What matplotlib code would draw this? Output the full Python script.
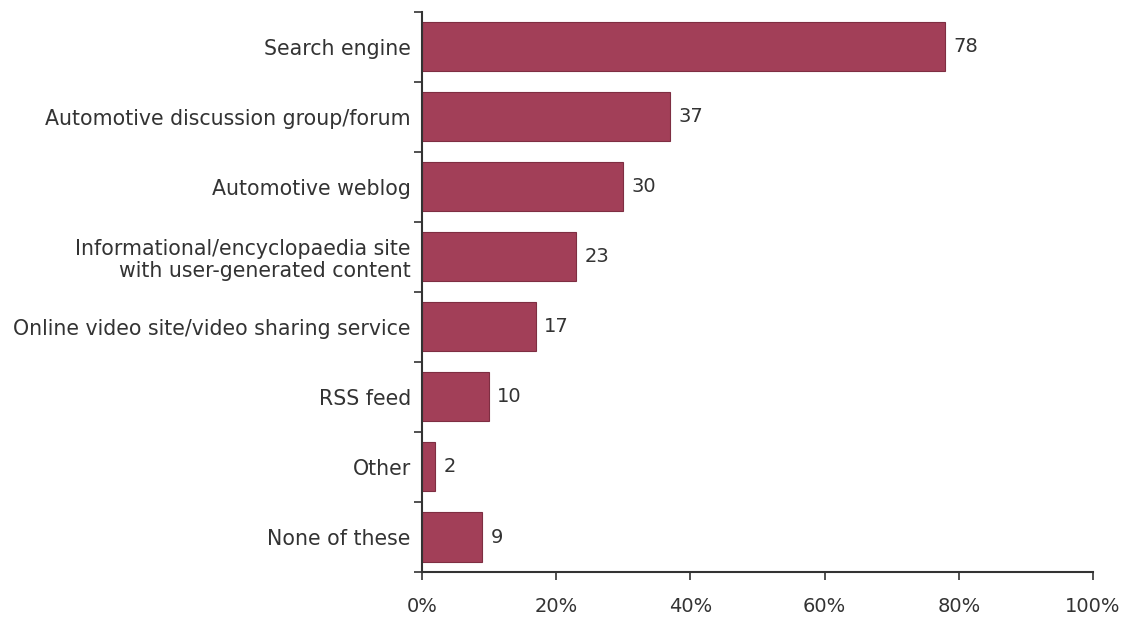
import matplotlib
matplotlib.use("Agg")
import matplotlib.pyplot as plt
import numpy as np

categories = ["Search engine", "Automotive discussion group/forum", "Automotive weblog",
              "Informational/encyclopaedia site\nwith user-generated content",
              "Online video site/video sharing service", "RSS feed", "Other", "None of these"]
values = [78, 37, 30, 23, 17, 10, 2, 9]
xticks = [0, 20, 40, 60, 80, 100]
xticklabels = ["0%", "20%", "40%", "60%", "80%", "100%"]

plt.rcParams['font.family'] = ['DejaVu Sans']
fig = plt.figure(figsize=(11.28, 6.18), dpi=100)
ax = fig.add_axes([0.374, 0.0744, 0.595, 0.9066])

y = np.arange(len(categories))
ax.barh(y, values, height=0.7, color="#A23F58", edgecolor="#7E2E42", linewidth=0.8)
ax.set_ylim(len(categories) - 0.5, -0.5)
ax.set_xlim(0, 100)
for yi, v in zip(y, values):
    ax.text(v + 1.2, yi, str(v), va="center", ha="left", fontsize=14, color="#333333")

ax.set_yticks(y)
ax.set_yticklabels(categories, fontsize=14.8, color="#333333", linespacing=1.15)
ax.tick_params(axis="y", which="major", length=0, pad=8)
ax.set_yticks(np.arange(-0.5, len(categories)), minor=True)
ax.tick_params(axis="y", which="minor", length=6, width=1.2, color="#333333", direction="out")
ax.set_xticks(xticks)
ax.set_xticklabels(xticklabels, fontsize=14, color="#333333")
ax.tick_params(axis="x", length=6, width=1.2, color="#333333", pad=12)
for s in ["top", "right"]:
    ax.spines[s].set_visible(False)
for s in ["left", "bottom"]:
    ax.spines[s].set_color("#333333")
    ax.spines[s].set_linewidth(1.5)

fig.savefig("out.png", dpi=100)
